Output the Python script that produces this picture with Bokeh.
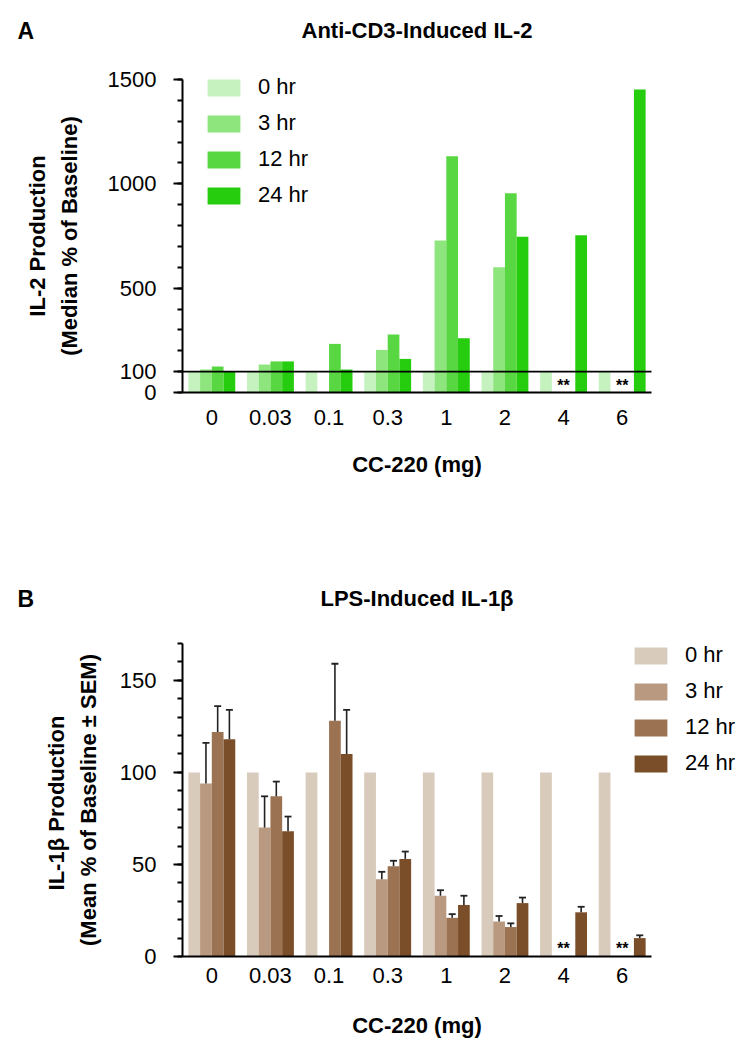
import numpy as np
from bokeh.plotting import figure
from bokeh.models import ColumnDataSource, Range1d, FixedTicker, Whisker, TeeHead
from bokeh.transform import dodge
from bokeh.layouts import column
from bokeh.embed import file_html
from bokeh.resources import INLINE
from bokeh.core.properties import value

nan = float("nan")

# ---------------- data ----------------
doses = ["0", "0.03", "0.1", "0.3", "1", "2", "4", "6"]
series = ["0 hr", "3 hr", "12 hr", "24 hr"]

# Panel A: Anti-CD3-induced IL-2, median % of baseline
il2_0hr = [100, 100, 100, 100, 100, 100, 100, 100]
il2_3hr = [110, 134, nan, 204, 728, 600, nan, nan]
il2_12hr = [125, 149, 233, 278, 1132, 955, nan, nan]
il2_24hr = [98, 149, 110, 161, 260, 747, 754, 1452]
il2_baseline = 100
il2_star_doses = ["4", "6"]

# Panel B: LPS-induced IL-1beta, mean % of baseline and SEM
il1b_0hr = [100, 100, 100, 100, 100, 100, 100, 100]
il1b_3hr = [94, 70, nan, 42, 33, 19, nan, nan]
il1b_12hr = [122, 87, 128, 49, 21, 16, nan, nan]
il1b_24hr = [118, 68, 110, 53, 28, 29, 24, 10]
il1b_3hr_sem = [22, 17, nan, 4, 3, 3, nan, nan]
il1b_12hr_sem = [14, 8, 31, 3, 2, 2, nan, nan]
il1b_24hr_sem = [16, 8, 24, 4, 5, 3, 3, 1.5]
il1b_star_doses = ["4", "6"]

# ---------------- styles / layout ----------------
green = ["#c6f2c0", "#8ee57e", "#58d742", "#26cc0e"]
brown = ["#d8cbbc", "#b99980", "#9b7353", "#7b4e2a"]
FONT = "Liberation Sans"
offsets = [-0.3, -0.1, 0.1, 0.3]

FIG_W = 740
LEFT = 182                      # page x of the y axis
GROUP_PX = 469 / len(doses)     # px per dose group
centers = [i + 0.5 for i in range(len(doses))]


def make_panel(page_top, height, frame_top, frame_bottom, ymax, ticks, minor,
               values, colors, star_doses, star_py, letter, title, title_py,
               ylab, ylab_standoff, legend_px, tick_standoff, xlab_standoff,
               sems=None, baseline=None):
    upp = ymax / (frame_bottom - frame_top)

    def X(px):
        return (px - LEFT) / GROUP_PX

    def Y(py):
        return (frame_bottom - py) * upp

    p = figure(x_range=Range1d(X(0), X(FIG_W)),
               y_range=Range1d(Y(page_top + height), Y(page_top)),
               width=FIG_W, height=height, output_backend="svg",
               toolbar_location=None, min_border=0)
    p.outline_line_color = None
    p.xgrid.visible = False
    p.ygrid.visible = False

    data = dict(xc=centers)
    for i, v in enumerate(values):
        data["s%d" % i] = np.array(v, dtype=float)
    src = ColumnDataSource(data)
    for i in range(4):
        p.vbar(x=dodge("xc", offsets[i]), top="s%d" % i, bottom=0, width=0.2,
               source=src, fill_color=colors[i], line_color=None,
               legend_label=series[i])

    if sems is not None:
        for i, sem in enumerate(sems):
            if sem is None:
                continue
            mean = np.array(values[i], dtype=float)
            err = np.array(sem, dtype=float)
            ok = np.isfinite(mean) & np.isfinite(err)
            esrc = ColumnDataSource(dict(xc=np.array(centers)[ok],
                                         lower=mean[ok], upper=(mean + err)[ok]))
            p.add_layout(Whisker(base=dodge("xc", offsets[i]), lower="lower",
                                 upper="upper", source=esrc,
                                 line_color="#222222", line_width=1.6,
                                 upper_head=TeeHead(size=7, line_color="#222222",
                                                    line_width=1.8),
                                 lower_head=None, level="annotation"))

    if baseline is not None:
        p.segment(x0=[0], x1=[len(doses)], y0=[baseline], y1=[baseline],
                  line_color="black", line_width=1.6)

    sx = [centers[doses.index(d)] for d in star_doses]
    p.text(x=sx, y=[Y(star_py)] * len(sx), text=["**"] * len(sx),
           text_align="center", text_baseline="alphabetic",
           text_font=value(FONT), text_font_style="bold",
           text_font_size="16px", text_color="black")

    # panel letter and title
    p.text(x=[X(17)], y=[Y(title_py)], text=[letter], text_font=value(FONT),
           text_font_style="bold", text_font_size="23px", text_align="left",
           text_baseline="alphabetic", text_color="black")
    p.text(x=[len(doses) / 2], y=[Y(title_py)], text=[title],
           text_font=value(FONT), text_font_style="bold",
           text_font_size="22px", text_align="center",
           text_baseline="alphabetic", text_color="black")

    xa = p.xaxis[0]
    xa.fixed_location = 0
    xa.bounds = (0, len(doses))
    xa.ticker = FixedTicker(ticks=centers)
    xa.major_label_overrides = {c: d for c, d in zip(centers, doses)}
    xa.axis_line_width = 2
    xa.axis_line_color = "black"
    xa.major_tick_line_color = None
    xa.minor_tick_line_color = None
    xa.major_label_text_font = FONT
    xa.major_label_text_font_size = "22px"
    xa.major_label_text_color = "black"
    xa.major_label_standoff = tick_standoff
    xa.axis_label = "CC-220 (mg)"
    xa.axis_label_text_font = FONT
    xa.axis_label_text_font_style = "bold"
    xa.axis_label_text_font_size = "22px"
    xa.axis_label_text_color = "black"
    xa.axis_label_standoff = xlab_standoff

    ya = p.yaxis[0]
    ya.fixed_location = 0
    ya.bounds = (0, ymax)
    ya.ticker = FixedTicker(ticks=ticks, minor_ticks=minor)
    ya.axis_line_width = 2
    ya.axis_line_color = "black"
    ya.major_tick_out = 9
    ya.major_tick_in = 0
    ya.minor_tick_out = 5
    ya.minor_tick_in = 0
    ya.major_tick_line_width = 1.8
    ya.minor_tick_line_width = 1.8
    ya.major_tick_line_color = "black"
    ya.minor_tick_line_color = "black"
    ya.major_label_text_font = FONT
    ya.major_label_text_font_size = "22px"
    ya.major_label_text_color = "black"
    ya.major_label_standoff = 17
    ya.axis_label = ylab
    ya.axis_label_text_font = FONT
    ya.axis_label_text_font_style = "bold"
    ya.axis_label_text_font_size = "22px"
    ya.axis_label_text_color = "black"
    ya.axis_label_text_line_height = 1.27
    ya.axis_label_standoff = ylab_standoff

    leg = p.legend[0]
    lx, lbottom = legend_px
    leg.location = (lx, page_top + height - lbottom)
    leg.glyph_width = 41
    leg.glyph_height = 21
    leg.label_standoff = 14
    leg.spacing = 10
    leg.padding = 0
    leg.margin = 0
    leg.border_line_color = None
    leg.background_fill_alpha = 0
    leg.label_text_font = FONT
    leg.label_text_font_size = "22px"
    leg.label_text_color = "black"
    return p


pA = make_panel(page_top=0, height=548, frame_top=79, frame_bottom=392,
                ymax=1500, ticks=[0, 100, 500, 1000, 1500],
                minor=list(range(0, 1501, 100)),
                values=[il2_0hr, il2_3hr, il2_12hr, il2_24hr], colors=green,
                star_doses=il2_star_doses, star_py=385,
                letter="A", title="Anti-CD3-Induced IL-2", title_py=30,
                ylab="IL-2 Production\n(Median % of Baseline)",
                ylab_standoff=23, legend_px=(203, 208),
                tick_standoff=11, xlab_standoff=24, baseline=il2_baseline)

pB = make_panel(page_top=548, height=506, frame_top=643, frame_bottom=956,
                ymax=170, ticks=[0, 50, 100, 150],
                minor=list(range(0, 171, 10)),
                values=[il1b_0hr, il1b_3hr, il1b_12hr, il1b_24hr], colors=brown,
                star_doses=il1b_star_doses, star_py=948,
                letter="B", title="LPS-Induced IL-1\u03b2", title_py=598,
                ylab="IL-1\u03b2  Production\n(Mean % of Baseline \u00b1 SEM)",
                ylab_standoff=16, legend_px=(630, 776),
                tick_standoff=5, xlab_standoff=27,
                sems=[None, il1b_3hr_sem, il1b_12hr_sem, il1b_24hr_sem])

layout = column(pA, pB)
open("out.html", "w").write(file_html(layout, INLINE))
